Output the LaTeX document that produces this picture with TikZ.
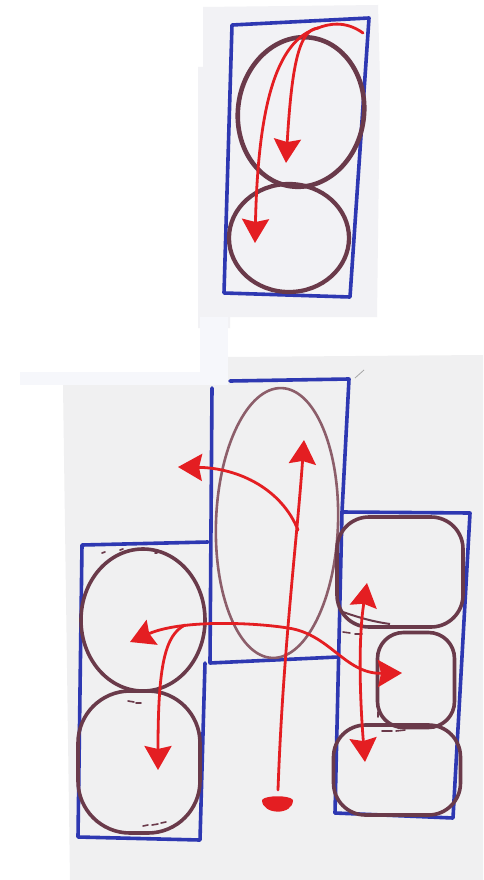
\documentclass[tikz,border=0pt]{standalone}
\usetikzlibrary{arrows.meta,shapes.geometric}
\definecolor{blueink}{RGB}{46,56,178}
\definecolor{brownink}{RGB}{106,58,74}
\definecolor{brownlight}{RGB}{140,94,106}
\definecolor{redink}{RGB}{228,30,34}
\definecolor{paperA}{RGB}{242,242,245}
\definecolor{paperB}{RGB}{240,240,241}
\definecolor{stripC}{RGB}{246,247,251}
\begin{document}
\begin{tikzpicture}[x=1pt,y=-1pt,
  blueline/.style={draw=blueink,line width=3.6pt,line join=round,line cap=round},
  blobshape/.style={draw=brownink,line width=3.6pt,inner sep=0pt,fill=none},
  roundbox/.style={blobshape,rectangle},
  oval/.style={blobshape,ellipse},
  redline/.style={draw=redink,line width=2.8pt,line cap=round},
  redtip/.tip={Stealth[length=24pt,width=27pt,inset=3pt]},
  redarrow/.style={redline,-redtip},
  reddouble/.style={redline,redtip-redtip},
  trace/.style={draw=brownink,line width=1.6pt,line cap=round}
]
\useasboundingbox (0,0) rectangle (483,880);
\fill[white] (0,0) rectangle (483,880);
% papers
\fill[paperA] (203,7) -- (378,5) -- (380,80) -- (377,317) -- (230,317) -- (230,328) -- (198,328) -- (198,67) -- (203,67) -- cycle;
\fill[paperB] (228,357) -- (483,355) -- (483,880) -- (70,880) -- (63,385) -- (228,385) -- cycle;
\fill[stripC] (200,317) rectangle (228,385);
\fill[stripC] (20,372) rectangle (200,385);

% ---------- top sketch ----------
\draw[blueline] (232,25) -- (369,18) -- (350,297) -- (224,293) -- cycle;
\node[oval,line width=4.6pt,minimum width=126pt,minimum height=150pt,rotate=-8] (topA) at (301,112) {};
\node[oval,line width=4.2pt,minimum width=120pt,minimum height=108pt] (topB) at (289,238) {};

\coordinate (ts) at (363,33);
\coordinate (tj) at (318,28);
\coordinate (t1) at (286,163);
\coordinate (t2) at (255,243);
\draw[redline] (ts) .. controls (345,20) and (328,24) .. (tj);
\draw[redarrow] (tj) .. controls (300,30) and (292,60) .. (t1);
\draw[redarrow] (tj) .. controls (275,40) and (258,110) .. (t2);

% ---------- bottom sketch ----------
% blue frames
\draw[blueline] (212,388) -- (210,663) -- (338,657);
\draw[blueline] (230,381) -- (349,379) -- (342,512) -- (335,813);
\draw[blueline] (342,512) -- (470,513) -- (453,818) -- (335,813);
\draw[blueline] (208,542) -- (82,545) -- (78,837) -- (200,840) -- (205,663);
\draw[gray!70,line width=0.8pt] (355,378) -- (364,370);

% central egg
\node[oval,draw=brownlight,line width=2.6pt,minimum width=122pt,minimum height=270pt,rotate=-2] (egg) at (277,523) {};

% left circles
\node[oval,minimum width=124pt,minimum height=142pt] (lA) at (143,620) {};
\node[roundbox,minimum width=122pt,minimum height=142pt,rounded corners=52pt] (lB) at (139,762) {};

% right boxes
\node[roundbox,minimum width=126pt,minimum height=110pt,rounded corners=32pt] (rA) at (400,572) {};
\node[roundbox,minimum width=77pt,minimum height=95pt,rounded corners=26pt] (rB) at (416,680) {};
\node[roundbox,minimum width=127pt,minimum height=90pt,rounded corners=32pt] (rC) at (397,770) {};

% marker traces
\draw[draw=brownink,line width=2pt] (343,612) .. controls (360,618) and (375,622) .. (390,624);
\draw[trace] (343,632) -- (350,633) (355,634) -- (362,634);
\draw[trace] (377,700) -- (377,706) (378,712) -- (378,717);
\draw[trace] (382,731) -- (392,731) (396,731) -- (405,730);
\draw[trace] (128,701) -- (134,702) (136,703) -- (141,703);
\draw[trace] (143,826) -- (148,825) (152,825) -- (158,824) (161,823) -- (166,822);
\draw[trace] (102,553) -- (105,552) (120,550) -- (123,549) (155,553) -- (157,553) (172,557) -- (174,558);

% red arrows
\coordinate (bs) at (278,790);
\coordinate (bu) at (304,440);
\coordinate (bj) at (298,530);
\coordinate (bl) at (178,467);
\coordinate (hl) at (130,642);
\coordinate (hc) at (288,628);
\coordinate (hr) at (402,673);
\coordinate (dj) at (185,625);
\coordinate (dd) at (158,770);
\coordinate (vt) at (367,583);
\coordinate (vb) at (365,762);
\draw[redarrow] (bs) .. controls (283,650) and (297,540) .. (bu);
\draw[redarrow] (bj) .. controls (282,490) and (240,468) .. (bl);
\draw[reddouble] (hl) .. controls (180,620) and (250,622) .. (hc)
  .. controls (330,634) and (345,674) .. (hr);
\draw[redarrow] (dj) .. controls (165,635) and (158,665) .. (dd);
\draw[reddouble] (vt) .. controls (358,640) and (360,700) .. (vb);
% red dot
\node[inner sep=0pt] (dot) at (277,805) {};
\fill[redink] (262,800) .. controls (262,815) and (293,816) .. (293,800)
  .. controls (290,795) and (265,795) .. (262,800) -- cycle;
\end{tikzpicture}
\end{document}
